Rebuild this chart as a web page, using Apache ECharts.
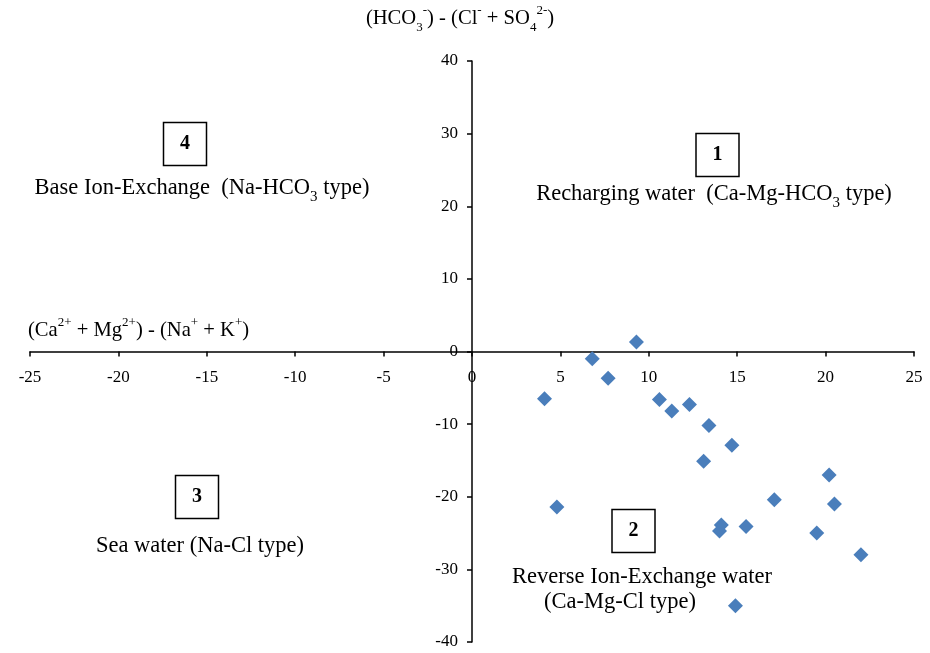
<!DOCTYPE html>
<html>
<head>
<meta charset="utf-8">
<script src="https://cdn.jsdelivr.net/npm/echarts@6/dist/echarts.min.js"></script>
<style>
html,body{margin:0;padding:0;background:#fff;}
#chart{width:930px;height:653px;}
</style>
</head>
<body>
<div id="chart"></div>
<script>
// Data
const xValues = [9.3, 6.8, 7.7, 4.1, 10.6, 11.3, 12.3, 13.4, 14.7, 13.1, 4.8, 17.1, 20.2, 20.5, 14.1, 14.0, 15.5, 19.5, 22.0, 14.9];
const yValues = [1.3, -1.0, -3.7, -6.5, -6.6, -8.2, -7.3, -10.2, -12.9, -15.1, -21.4, -20.4, -17.0, -21.0, -23.9, -24.7, -24.1, -25.0, -28.0, -35.0];
const xTicks = { min: -25, max: 25, interval: 5 };
const yTicks = { min: -40, max: 40, interval: 10 };

const FONT = '"Liberation Serif", "Times New Roman", serif';
const points = xValues.map((x, i) => [x, yValues[i]]);

const W = 930, H = 653;
const G = { left: 30, right: 16, top: 61, bottom: 11 };
const gw = W - G.left - G.right, gh = H - G.top - G.bottom;
// place axes where the other axis equals zero
const xAxisOffset = -gh * (0 - yTicks.min) / (yTicks.max - yTicks.min);
const yAxisOffset = -gw * (0 - xTicks.min) / (xTicks.max - xTicks.min);

const chart = echarts.init(document.getElementById('chart'));

const richBase = (size) => ({
  n: { fontSize: size, fontFamily: FONT, fill: '#000', lineHeight: size + 10 },
  sub: { fontSize: Math.round(size * 0.65), fontFamily: FONT, fill: '#000', lineHeight: Math.round(size * 0.65), verticalAlign: 'bottom' },
  sup: { fontSize: Math.round(size * 0.65), fontFamily: FONT, fill: '#000', lineHeight: Math.round(size * 0.65), verticalAlign: 'top' }
});

function richText(x, y, text, size, align) {
  return {
    type: 'text', x: x, y: y, z: 10,
    style: {
      text: text, rich: richBase(size),
      font: size + 'px ' + FONT, fill: '#000',
      align: align || 'center', verticalAlign: 'middle'
    }
  };
}
function box(cx, cy, label) {
  return [
    { type: 'rect', z: 9, shape: { x: cx - 21.5, y: cy - 21.5, width: 43, height: 43 },
      style: { fill: '#fff', stroke: '#000', lineWidth: 1.5 } },
    { type: 'text', z: 10, x: cx, y: cy,
      style: { text: label, font: 'bold 20px ' + FONT, fill: '#000', align: 'center', verticalAlign: 'middle' } }
  ];
}

const option = {
  backgroundColor: '#fff',
  animation: false,
  grid: { left: G.left, right: G.right, top: G.top, bottom: G.bottom, containLabel: false, outerBoundsMode: 'none' },
  xAxis: {
    type: 'value', min: xTicks.min, max: xTicks.max, interval: xTicks.interval,
    position: 'bottom', offset: xAxisOffset,
    axisLine: { onZero: false, lineStyle: { color: '#000', width: 1.5 } },
    axisTick: { show: true, length: 5, lineStyle: { color: '#000', width: 1.5 } },
    axisLabel: { color: '#000', fontFamily: FONT, fontSize: 17, margin: 18 },
    splitLine: { show: false }
  },
  yAxis: {
    type: 'value', min: yTicks.min, max: yTicks.max, interval: yTicks.interval,
    position: 'left', offset: yAxisOffset,
    axisLine: { onZero: false, lineStyle: { color: '#000', width: 1.5 } },
    axisTick: { show: true, length: 5, lineStyle: { color: '#000', width: 1.5 } },
    axisLabel: { color: '#000', fontFamily: FONT, fontSize: 17, margin: 14 },
    splitLine: { show: false }
  },
  series: [{
    type: 'scatter',
    data: points,
    symbol: 'diamond',
    symbolSize: 15,
    itemStyle: { color: '#4a7ebb', opacity: 1 },
    z: 5
  }],
  graphic: [
    richText(460, 19, '{n|(HCO}{sub|3}{sup|-}{n|) - (Cl}{sup|-}{n| + SO}{sub|4}{sup|2-}{n|)}', 20.6),
    richText(28, 331, '{n|(Ca}{sup|2+}{n| + Mg}{sup|2+}{n|) - (Na}{sup|+}{n| + K}{sup|+}{n|)}', 20.6, 'left'),
    ...box(185, 144, '4'),
    richText(202, 188, '{n|Base Ion-Exchange  (Na-HCO}{sub|3}{n| type)}', 22.5),
    ...box(717.5, 155, '1'),
    richText(714, 194, '{n|Recharging water  (Ca-Mg-HCO}{sub|3}{n| type)}', 22.5),
    ...box(197, 497, '3'),
    richText(200, 546, '{n|Sea water (Na-Cl type)}', 22.5),
    ...box(633.5, 531, '2'),
    richText(642, 577, '{n|Reverse Ion-Exchange water}', 22.5),
    richText(620, 602, '{n|(Ca-Mg-Cl type)}', 22.5)
  ]
};
chart.setOption(option);
</script>
</body>
</html>
